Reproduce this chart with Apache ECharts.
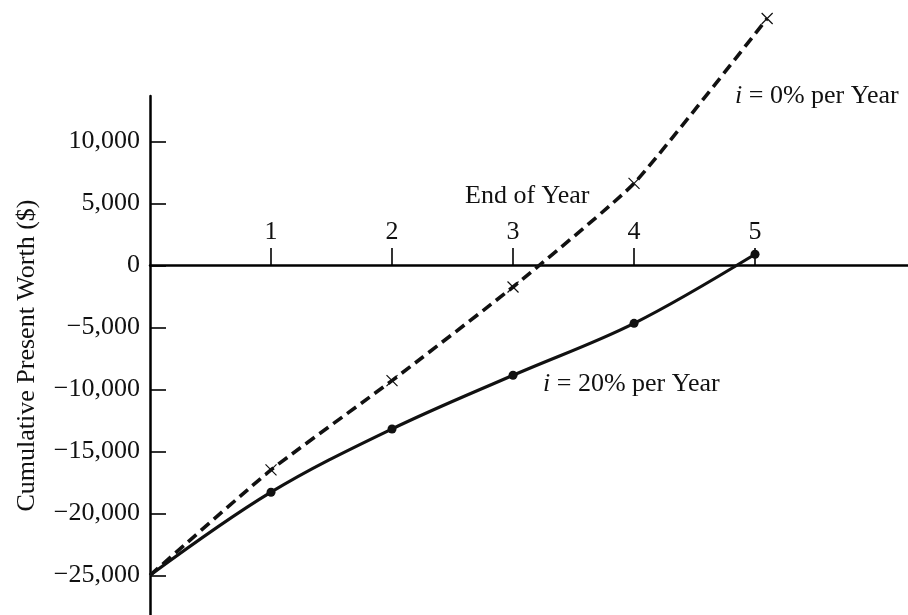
<!DOCTYPE html>
<html>
<head>
<meta charset="utf-8">
<script src="https://cdn.jsdelivr.net/npm/echarts@6/dist/echarts.min.js"></script>
<style>
html,body{margin:0;padding:0;background:#fff;}
#c{width:908px;height:615px;}
</style>
</head>
<body>
<div id="c"></div>
<script>
// Data
var yearsZero = [0, 1, 2, 3, 4, 5.1];
var pwZero = [-25000, -16500, -9300, -1750, 6600, 19900];
var yearsTwenty = [0, 1, 2, 3, 4, 5];
var pwTwenty = [-25000, -18300, -13200, -8870, -4680, 890];
var xTickValues = [1, 2, 3, 4, 5];
var yTickValues = [-25000, -20000, -15000, -10000, -5000, 0, 5000, 10000];
var xTitle = 'End of Year';
var yTitle = 'Cumulative Present Worth ($)';
var labelZero = '{it|i} = 0% per Year';
var labelTwenty = '{it|i} = 20% per Year';

var FONT = '"Liberation Serif", "DejaVu Serif", serif';
var FS = 26;
var crossPath = 'path://M0,0L10,10M10,0L0,10';

function pairs(xs, ys) {
  return xs.map(function (x, i) {
    var d = { value: [x, ys[i]] };
    if (i === 0) d.symbol = 'none';
    return d;
  });
}

function fmt(v) {
  var s = Math.abs(v).toString().replace(/\B(?=(\d{3})+(?!\d))/g, ',');
  return v < 0 ? '\u2212' + s : s;
}

var chart = echarts.init(document.getElementById('c'), null, { renderer: 'canvas' });
chart.setOption({
  backgroundColor: '#fff',
  animation: false,
  grid: { left: 150, right: 0, top: 96, bottom: 0, containLabel: false },
  xAxis: {
    type: 'value',
    min: 0,
    max: 6.264,
    offset: -350,
    axisLine: { onZero: false, lineStyle: { color: '#000', width: 2.5 } },
    axisTick: { show: true, inside: true, length: 17, customValues: xTickValues, lineStyle: { color: '#000', width: 1.6 } },
    axisLabel: { show: true, inside: true, margin: 20, customValues: xTickValues, fontFamily: FONT, fontSize: FS, color: '#111' },
    splitLine: { show: false }
  },
  yAxis: {
    type: 'value',
    min: -28200,
    max: 13650,
    name: yTitle,
    nameLocation: 'middle',
    nameGap: 110,
    nameRotate: 90,
    nameTextStyle: { fontFamily: FONT, fontSize: FS, color: '#111' },
    axisLine: { show: true, onZero: false, lineStyle: { color: '#000', width: 2.5 } },
    axisTick: { show: true, inside: true, length: 16, customValues: yTickValues, lineStyle: { color: '#000', width: 1.6 } },
    axisLabel: { show: true, margin: 10, customValues: yTickValues, formatter: fmt, fontFamily: FONT, fontSize: FS, color: '#111' },
    splitLine: { show: false }
  },
  graphic: [
    { type: 'text', left: 465, top: 183, style: { text: xTitle, fontFamily: FONT, fontSize: FS, fill: '#111' } },
    { type: 'text', left: 735, top: 83, style: { text: labelZero, fontFamily: FONT, fontSize: FS, fill: '#111', rich: { it: { fontStyle: 'italic', fontFamily: FONT, fontSize: FS } } } },
    { type: 'text', left: 543, top: 371, style: { text: labelTwenty, fontFamily: FONT, fontSize: FS, fill: '#111', rich: { it: { fontStyle: 'italic', fontFamily: FONT, fontSize: FS } } } }
  ],
  series: [
    {
      name: 'i = 0%',
      type: 'line',
      data: pairs(yearsZero, pwZero),
      smooth: 0.15,
      clip: false,
      symbol: crossPath,
      symbolSize: 11,
      showSymbol: true,
      lineStyle: { color: '#111', width: 3.6, type: [11, 6] },
      itemStyle: { color: 'rgba(0,0,0,0)', borderColor: '#111', borderWidth: 1.2 },
      z: 3
    },
    {
      name: 'i = 20%',
      type: 'line',
      data: pairs(yearsTwenty, pwTwenty),
      smooth: 0.35,
      clip: false,
      symbol: 'circle',
      symbolSize: 9,
      showSymbol: true,
      lineStyle: { color: '#111', width: 3.2 },
      itemStyle: { color: '#111', borderWidth: 0 },
      z: 4
    }
  ]
});
</script>
</body>
</html>
